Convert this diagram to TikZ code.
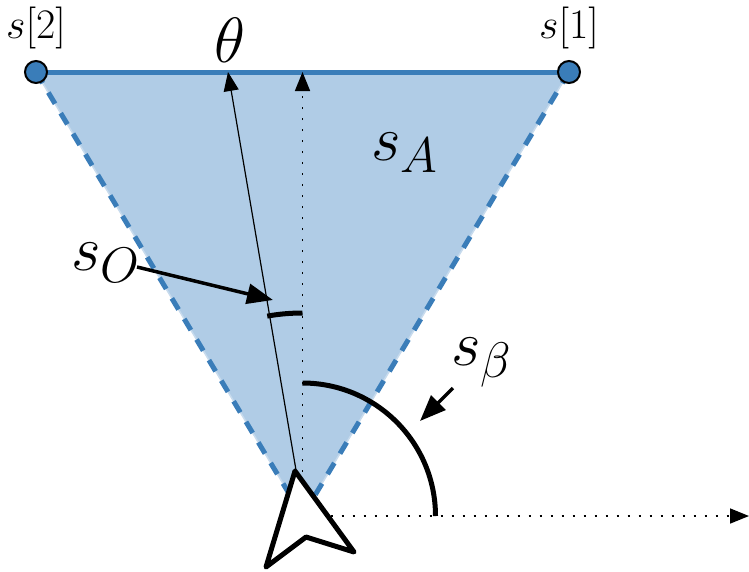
\RequirePackage{fix-cm}
\documentclass[tikz,border=0pt]{standalone}
\usetikzlibrary{arrows.meta}
\DeclareMathSizes{64}{64}{50}{40}
\definecolor{edgeblue}{HTML}{3A7DB9}
\definecolor{fillblue}{HTML}{B0CCE6}
\tikzset{
  big/.style={inner sep=0pt,font=\fontsize{64}{64}\selectfont},
  small/.style={inner sep=0pt,font=\fontsize{42}{42}\selectfont},
  endpoint/.style={circle,draw=black,line width=2pt,fill=edgeblue,minimum size=22pt,inner sep=0pt},
  edge/.style={edgeblue,line width=5pt},
  dashedge/.style={edgeblue,line width=5pt,dash pattern=on 13pt off 11pt},
  tipA/.style={-{Triangle[length=19pt,width=15pt]}},
  thick arc/.style={line width=5pt,black},
  dotline/.style={line width=1.6pt,dash pattern=on 2.2pt off 8.8pt},
  pointer/.style={line width=3.5pt,-{Triangle[length=26pt,width=20pt]}},
}
\begin{document}
\begin{tikzpicture}[x=1pt,y=-1pt]
\useasboundingbox (0,0) rectangle (749,571);
\coordinate (apex) at (302.5,516);
\coordinate (L) at (36,72);
\coordinate (R) at (569,72);
\coordinate (topv) at (302.5,72);
\coordinate (topt) at (228,72);
\coordinate (tail) at (296,470);
\coordinate (far) at (749,516);
\fill[fillblue] (L) -- (R) -- (apex) -- cycle;
\draw[fillblue!70!white,line width=1.5pt] (L) -- (apex) -- (R);
\draw[dashedge] (L) -- (apex);
\draw[dashedge] (R) -- (apex);
\draw[edge] (L) -- (R);
\node[endpoint] (n2) at (L) {};
\node[endpoint] (n1) at (R) {};
\draw[dotline,tipA] (apex) -- (topv);
\draw[line width=1.2pt,tipA] (tail) -- (topt);
\draw[dotline,tipA] (apex) ++(28,0) -- (far);
\draw[thick arc] (302.5,383) arc[start angle=-90,end angle=0,radius=133];
\draw[thick arc] (302.5,313) arc[start angle=-90,end angle=-100,radius=203];
\draw[line width=5pt,line join=round,fill=white] (295,471) -- (354,552) -- (306,537) -- (266,567) -- cycle;
\node[small] (l2) at (36,28) {$s[2]$};
\node[small] (l1) at (569,28) {$s[1]$};
\node[big] (th) at (230,40) {$\theta$};
\node[big,anchor=base west] (sa) at (371,160) {$s_A$};
\node[big,anchor=base west] (so) at (71,270) {$s_O$};
\node[big,anchor=base west] (sb) at (451,365) {$s_\beta$};
\coordinate (soEnd) at (273,300);
\coordinate (soStart) at (137,267);
\coordinate (sbStart) at (453,388);
\coordinate (sbEnd) at (420,421);
\draw[pointer] (soStart) -- (soEnd);
\draw[pointer] (sbStart) -- (sbEnd);
\end{tikzpicture}
\end{document}
